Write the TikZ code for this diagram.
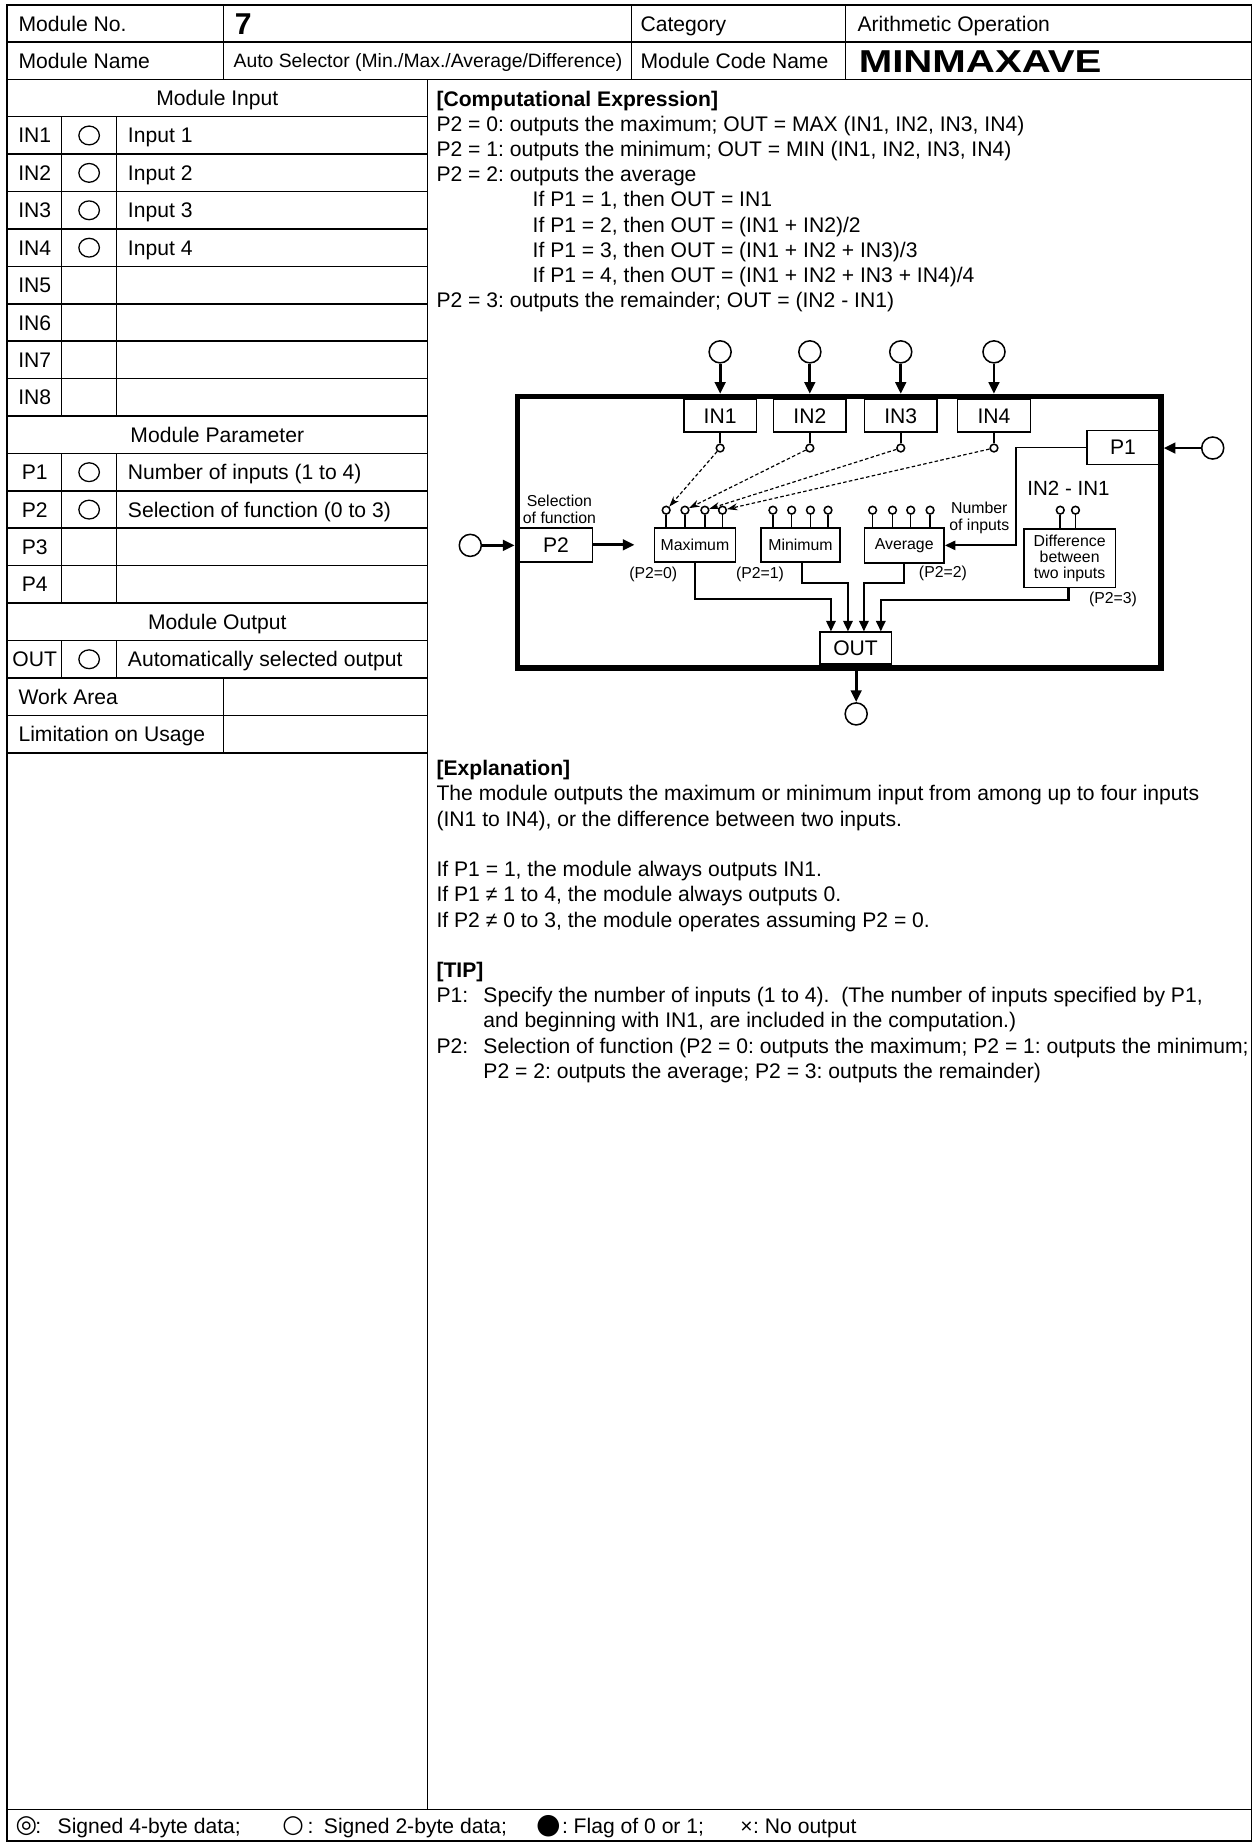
\documentclass[tikz,border=0pt]{standalone}
\usepackage{fontspec}
\setmainfont{Liberation Sans}
\newfontfamily\symf{DejaVu Sans}
\usetikzlibrary{arrows.meta,shapes.geometric}
\frenchspacing
\begin{document}
\begin{tikzpicture}[x=1pt,y=-1pt,
  grid/.style={line width=1.3},
  f18/.style={font=\fontsize{18}{21.5}\selectfont},
  tl/.style={anchor=base west,inner sep=0,f18},
  tc/.style={anchor=base,inner sep=0,f18},
  ring/.style={draw,ellipse,line width=1.1,minimum width=17.5,minimum height=16,inner sep=0},
  box/.style={draw,line width=1.3,inner sep=0,f18},
  fbox/.style={draw,line width=1.3,inner sep=0,font=\fontsize{13.5}{13.6}\selectfont,align=center},
  small/.style={inner sep=0,font=\fontsize{13.5}{14.4}\selectfont,align=center},
  bigc/.style={draw,circle,line width=1.3,minimum size=18.8,inner sep=0},
  pinc/.style={draw,circle,line width=1.3,minimum size=6.6,inner sep=0},
  thk/.style={line width=2.4,-{Triangle[length=10,width=9]}},
  med/.style={line width=1.8,-{Triangle[length=9,width=8]}},
  dsh/.style={line width=1,dash pattern=on 3pt off 2pt,-{Stealth[length=9,width=6]}},
  lg/.style={anchor=base west,inner sep=0,f18},
  lgs/.style={anchor=center,inner sep=0},
]
\useasboundingbox (0,0) rectangle (1070,1571.4);
\fill[white] (0,0) rectangle (1070,1571.4);
% ---------- frame and grid ----------
\draw[grid] (6,4.3) rectangle (1067,1569.5);
\draw[grid] (6,36) -- (1067,36);
\draw[grid] (6,67.6) -- (1067,67.6);
\draw[grid] (6,1543) -- (1067,1543);
\draw[grid] (190.4,4.3) -- (190.4,67.6);
\draw[grid] (538.6,4.3) -- (538.6,67.6);
\draw[grid] (721,4.3) -- (721,67.6);
\draw[grid] (364.6,67.6) -- (364.6,1543);
\foreach \k in {1,...,18} \draw[grid] (6,67.6+31.9*\k) -- (364.6,67.6+31.9*\k);
\draw[grid] (52.6,99.5) -- (52.6,354.8);
\draw[grid] (99.5,99.5) -- (99.5,354.8);
\draw[grid] (52.6,386.7) -- (52.6,514.3);
\draw[grid] (99.5,386.7) -- (99.5,514.3);
\draw[grid] (52.6,546.2) -- (52.6,578.1);
\draw[grid] (99.5,546.2) -- (99.5,578.1);
\draw[grid] (190.4,578.1) -- (190.4,641.8);
% ---------- header ----------
\node[tl] (hmn) at (15.6,26.6) {Module No.};
\node[anchor=base west,inner sep=0,font=\fontsize{25.7}{26}\bfseries\selectfont] (hno) at (200,29.8) {7};
\node[tl] (hcat) at (546,26.6) {Category};
\node[tl] (hcatv) at (731,26.6) {Arithmetic Operation};
\node[tl] (hname) at (15.6,58.2) {Module Name};
\node[anchor=base west,inner sep=0,font=\fontsize{16.5}{18}\selectfont] (hnamev) at (199,57.7) {Auto Selector (Min./Max./Average/Difference)};
\node[tl] (hcode) at (546,58.2) {Module Code Name};
\node[anchor=base west,inner sep=0,font=\fontsize{27}{28}\bfseries\selectfont] (hcodev) at (732,61.5) {\scalebox{1.27}[1]{MINMAXAVE}};
% ---------- left table ----------
\node[tc] (tmi) at (185.3,90) {Module Input};
\node[tc] (r1) at (29.6,121.9) {IN1};
\node[tc] (r2) at (29.6,153.8) {IN2};
\node[tc] (r3) at (29.6,185.7) {IN3};
\node[tc] (r4) at (29.6,217.6) {IN4};
\node[tc] (r5) at (29.6,249.5) {IN5};
\node[tc] (r6) at (29.6,281.4) {IN6};
\node[tc] (r7) at (29.6,313.3) {IN7};
\node[tc] (r8) at (29.6,345.2) {IN8};
\node[ring] (c1) at (76,115.5) {};
\node[ring] (c2) at (76,147.4) {};
\node[ring] (c3) at (76,179.3) {};
\node[ring] (c4) at (76,211.2) {};
\node[tl] (d1) at (108.9,121.9) {Input 1};
\node[tl] (d2) at (108.9,153.8) {Input 2};
\node[tl] (d3) at (108.9,185.7) {Input 3};
\node[tl] (d4) at (108.9,217.6) {Input 4};
\node[tc] (tmp) at (185.3,377.1) {Module Parameter};
\node[tc] (p1r) at (29.6,409) {P1};
\node[tc] (p2r) at (29.6,440.9) {P2};
\node[tc] (p3r) at (29.6,472.8) {P3};
\node[tc] (p4r) at (29.6,504.7) {P4};
\node[ring] (cp1) at (76,402.6) {};
\node[ring] (cp2) at (76,434.5) {};
\node[tl] (dp1) at (108.9,409) {Number of inputs (1 to 4)};
\node[tl] (dp2) at (108.9,440.9) {Selection of function (0 to 3)};
\node[tc] (tmo) at (185.3,536.6) {Module Output};
\node[tc] (outr) at (29.6,568.5) {OUT};
\node[ring] (cout) at (76,562.1) {};
\node[tl] (dout) at (108.9,568.5) {Automatically selected output};
\node[tl] (wa) at (15.6,600.4) {Work Area};
\node[tl] (lu) at (15.6,632.3) {Limitation on Usage};
% ---------- computational expression ----------
\node[tl,font=\fontsize{18}{21.5}\bfseries\selectfont] (ce0) at (372,90.4) {[Computational Expression]};
\node[tl] (ce1) at (372,112.4) {P2 = 0: outputs the maximum; OUT = MAX (IN1, IN2, IN3, IN4)};
\node[tl] (ce2) at (372,133.4) {P2 = 1: outputs the minimum; OUT = MIN (IN1, IN2, IN3, IN4)};
\node[tl] (ce3) at (372,154.9) {P2 = 2: outputs the average};
\node[tl] (ce4) at (454,176.4) {If P1 = 1, then OUT = IN1};
\node[tl] (ce5) at (454,197.9) {If P1 = 2, then OUT = (IN1 + IN2)/2};
\node[tl] (ce6) at (454,219.4) {If P1 = 3, then OUT = (IN1 + IN2 + IN3)/3};
\node[tl] (ce7) at (454,240.9) {If P1 = 4, then OUT = (IN1 + IN2 + IN3 + IN4)/4};
\node[tl] (ce8) at (372,262.4) {P2 = 3: outputs the remainder; OUT = (IN2 - IN1)};
% ---------- diagram ----------
\node[draw,line width=4.5,minimum width=549,minimum height=231.6,inner sep=0] (frame) at (715.5,453.8) {};
\node[box,minimum width=62,minimum height=28] (in1) at (614,354.5) {IN1};
\node[box,minimum width=62,minimum height=28] (in2) at (690.5,354.5) {IN2};
\node[box,minimum width=62,minimum height=28] (in3) at (768,354.5) {IN3};
\node[box,minimum width=62,minimum height=28] (in4) at (847.5,354.5) {IN4};
\node[bigc] (in1c) at (614,300) {};
\node[bigc] (in2c) at (690.5,300) {};
\node[bigc] (in3c) at (768,300) {};
\node[bigc] (in4c) at (847.5,300) {};
\foreach \i in {1,...,4} \draw[thk] (in\i c.south) -- (in\i c.south |- frame.north);
\node[pinc] (s1) at (614,382) {};
\node[pinc] (s2) at (690.5,382) {};
\node[pinc] (s3) at (768,382) {};
\node[pinc] (s4) at (847.5,382) {};
\foreach \i in {1,...,4} \draw[line width=1.3] (in\i.south) -- (s\i.north);
% function boxes
\node[fbox,minimum width=69,minimum height=29] (maxb) at (592.5,464.5) {Maximum};
\node[fbox,minimum width=67,minimum height=29] (minb) at (682.5,464.5) {Minimum};
\node[fbox,minimum width=68,minimum height=30] (avgb) at (771,465) {Average};
\node[fbox,minimum width=78,minimum height=50] (difb) at (912,476) {Difference\\between\\two inputs};
% pins
\node[pinc] (m1) at (568,435) {};
\node[pinc] (m2) at (584,435) {};
\node[pinc] (m3) at (601,435) {};
\node[pinc] (m4) at (616,435) {};
\node[pinc] (n1) at (659,435) {};
\node[pinc] (n2) at (675,435) {};
\node[pinc] (n3) at (691,435) {};
\node[pinc] (n4) at (706,435) {};
\node[pinc] (a1) at (744,435) {};
\node[pinc] (a2) at (761,435) {};
\node[pinc] (a3) at (776.5,435) {};
\node[pinc] (a4) at (793,435) {};
\node[pinc] (e1) at (904,435) {};
\node[pinc] (e2) at (917,435) {};
\foreach \i in {1,...,4} {
  \draw[line width=1.3] (m\i.south) -- (m\i.south |- maxb.north);
  \draw[line width=1.3] (n\i.south) -- (n\i.south |- minb.north);
  \draw[line width=1.3] (a\i.south) -- (a\i.south |- avgb.north);
}
\foreach \i in {1,2} \draw[line width=1.3] (e\i.south) -- (e\i.south |- difb.north);
% dashed connections
\draw[dsh] (s1) -- (m1);
\draw[dsh] (s2) -- (m2);
\draw[dsh] (s3) -- (m3);
\draw[dsh] (s4) -- (m4);
% P2
\node[box,minimum width=62,minimum height=29] (p2b) at (474,464.5) {P2};
\node[bigc] (p2c) at (401,465) {};
\draw[thk] (p2c.east) -- (p2c.east -| frame.west);
\coordinate (p2t) at (541,464.5);
\draw[thk] (p2b.east) -- (p2t);
\node[small] (selfn) at (477,434.5) {Selection\\of function};
% P1
\node[box,minimum width=61,minimum height=29] (p1b) at (957.5,381.5) {P1};
\node[bigc] (p1c) at (1034,382) {};
\draw[thk] (p1c.west) -- (p1c.west -| frame.east);
\coordinate (pk) at (866,381.5);
\draw[line width=1.5,-{Triangle[length=9,width=8]}] (p1b.west) -- (pk) |- (avgb.east);
\node[small] (noin) at (835,441.5) {Number\\of inputs};
\node[inner sep=0,font=\fontsize{17.5}{18}\selectfont] (dlab) at (911,416) {IN2 - IN1};
% P2 labels
\node[small] (l0) at (557,490) {(P2=0)};
\node[small] (l1) at (648,490) {(P2=1)};
\node[small] (l2) at (804,489) {(P2=2)};
\node[small] (l3) at (949,511) {(P2=3)};
% OUT
\node[box,minimum width=61,minimum height=27] (outb) at (729.5,552.5) {OUT};
\coordinate (o1) at (708.5,510.7);
\coordinate (o2) at (723,497);
\coordinate (o3) at (736.6,497);
\coordinate (o4) at (751,511.6);
\draw[med] (maxb.south) |- (o1) -- (o1 |- outb.north);
\draw[med] (minb.south -| 683.5,0) |- (o2) -- (o2 |- outb.north);
\draw[med] (avgb.south) |- (o3) -- (o3 |- outb.north);
\draw[med] (difb.south -| 911,0) |- (o4) -- (o4 |- outb.north);
\node[bigc] (outc) at (730,608.7) {};
\draw[thk] (outb.south -| outc.north) -- (outc.north);
% ---------- explanation ----------
\node[tl,font=\fontsize{18}{21.5}\bfseries\selectfont] (ex0) at (372,661.4) {[Explanation]};
\node[tl] (ex1) at (372,682.9) {The module outputs the maximum or minimum input from among up to four inputs};
\node[tl] (ex2) at (372,704.4) {(IN1 to IN4), or the difference between two inputs.};
\node[tl] (ex3) at (372,747.4) {If P1 = 1, the module always outputs IN1.};
\node[tl] (ex4) at (372,768.9) {If P1 ≠ 1 to 4, the module always outputs 0.};
\node[tl] (ex5) at (372,790.4) {If P2 ≠ 0 to 3, the module operates assuming P2 = 0.};
\node[tl,font=\fontsize{18}{21.5}\bfseries\selectfont] (tip0) at (372,833.4) {[TIP]};
\node[tl] (tip1a) at (372,854.9) {P1:};
\node[tl] (tip1b) at (412,854.9) {Specify the number of inputs (1 to 4).\ \ (The number of inputs specified by P1,};
\node[tl] (tip1c) at (412,876.4) {and beginning with IN1, are included in the computation.)};
\node[tl] (tip2a) at (372,897.9) {P2:};
\node[tl] (tip2b) at (412,897.9) {Selection of function (P2 = 0: outputs the maximum; P2 = 1: outputs the minimum;};
\node[tl] (tip2c) at (412,919.4) {P2 = 2: outputs the average; P2 = 3: outputs the remainder)};
% ---------- legend ----------
\node[lgs,font=\symf\fontsize{21}{22}\selectfont] (ls1) at (22.5,1557) {◎};
\node[lg] (lt1a) at (30,1563.4) {:};
\node[lg] (lt1) at (49,1563.4) {Signed 4-byte data;};
\node[lgs,font=\symf\fontsize{21}{22}\selectfont] (ls2) at (250,1557) {○};
\node[lg] (lt2a) at (262,1563.4) {:};
\node[lg] (lt2) at (276,1563.4) {Signed 2-byte data;};
\node[lgs,font=\symf\fontsize{24}{25}\selectfont] (ls3) at (467.5,1557) {●};
\node[lg] (lt3) at (479,1563.4) {: Flag of 0 or 1;};
\node[lg] (ls4) at (631,1563.4) {×};
\node[lg] (lt4) at (642,1563.4) {: No output};
\end{tikzpicture}
\end{document}
